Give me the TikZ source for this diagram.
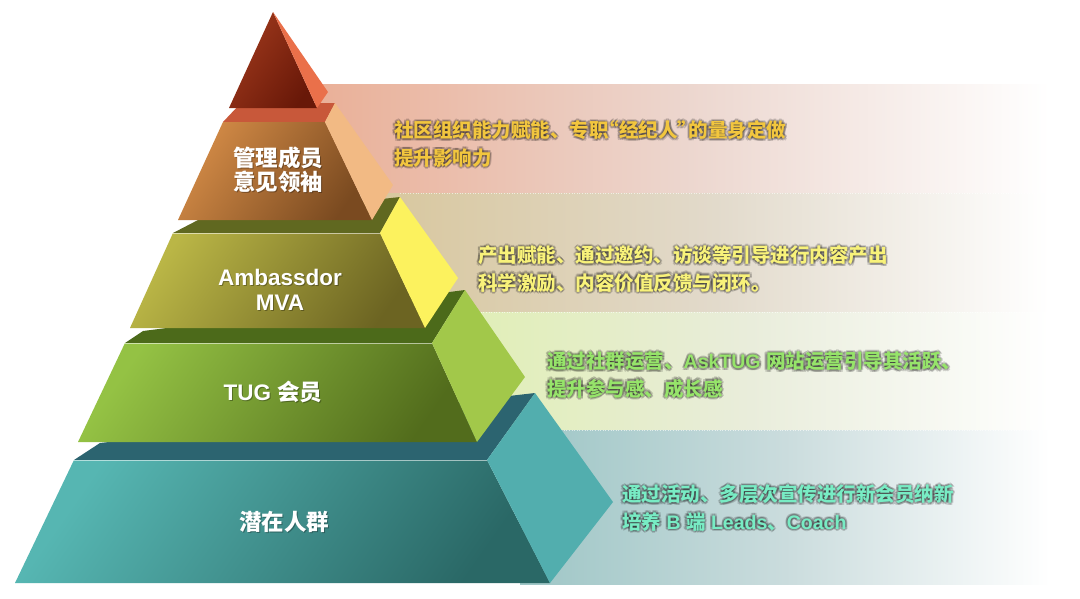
\documentclass[tikz,border=0pt]{standalone}
\usepackage{fontspec}
\setmainfont{Liberation Sans}
\newfontfamily\cjk{Noto Sans CJK SC}
\usetikzlibrary{calc}
\definecolor{bandA}{RGB}{234,176,152}
\definecolor{bandAm}{RGB}{236,214,206}
\definecolor{bandB}{RGB}{216,199,158}
\definecolor{bandBm}{RGB}{226,218,203}
\definecolor{bandC}{RGB}{224,238,180}
\definecolor{bandCm}{RGB}{233,237,219}
\definecolor{bandD}{RGB}{158,198,198}
\definecolor{bandDm}{RGB}{202,220,221}
\definecolor{tipF1}{RGB}{158,56,28}
\definecolor{tipF2}{RGB}{104,24,8}
\definecolor{tipS}{RGB}{234,112,74}
\definecolor{lbT}{RGB}{200,88,58}
\definecolor{lbF1}{RGB}{210,138,70}
\definecolor{lbF2}{RGB}{122,74,32}
\definecolor{lbS}{RGB}{242,186,132}
\definecolor{lcT}{RGB}{96,104,32}
\definecolor{lcF1}{RGB}{186,182,70}
\definecolor{lcF2}{RGB}{108,100,34}
\definecolor{lcS}{RGB}{252,242,94}
\definecolor{ldT}{RGB}{76,106,26}
\definecolor{ldF1}{RGB}{148,194,68}
\definecolor{ldF2}{RGB}{82,108,28}
\definecolor{ldS}{RGB}{162,200,74}
\definecolor{leT}{RGB}{44,100,112}
\definecolor{leF1}{RGB}{86,182,178}
\definecolor{leF2}{RGB}{42,104,102}
\definecolor{leS}{RGB}{82,174,174}
\definecolor{txA}{RGB}{242,198,62}
\definecolor{txB}{RGB}{248,242,122}
\definecolor{txC}{RGB}{150,228,106}
\definecolor{txD}{RGB}{120,236,196}
\newcommand\glowtext[4]{%
  \foreach \a in {0,45,...,315}{\node[bandtxt,text=black,opacity=0.16] at ($(#2)+(\a:2.2)$) {#4};}
  \node[bandtxt,text=#3] (#1) at (#2) {#4};}
\newcommand\pyrlabel[3]{%
  \node[labeltxt,text=black,opacity=0.3] at ($(#2)+(1,1)$) {#3};
  \node[labeltxt] (#1) at (#2) {#3};}
\begin{document}
\begin{tikzpicture}[x=1pt,y=-1pt,
  bandtxt/.style={anchor=west,inner sep=0pt,align=left,font=\fontsize{19.5}{27.5}\selectfont\bfseries},
  labeltxt/.style={inner sep=0pt,align=center,text=white,font=\fontsize{22.5}{24.5}\selectfont\bfseries},
  frontface/.style 2 args={top color=#1,bottom color=#2,shading angle=55},
  edgeline/.style={white,opacity=0.55,line width=0.8pt}]
\useasboundingbox (0,0) rectangle (1080,598);
\fill[white] (0,0) rectangle (1080,598);
% background bands
\shade[left color=bandA,right color=white,middle color=bandAm] (318,84) rectangle (1050,193);
\shade[left color=bandB,right color=white,middle color=bandBm] (380,193) rectangle (1050,312);
\shade[left color=bandC,right color=white,middle color=bandCm] (450,312) rectangle (1050,430);
\shade[left color=bandD,right color=white,middle color=bandDm] (520,430) rectangle (1050,584);
\draw[white,opacity=0.6,dotted,line width=0.6pt] (400,193) -- (1040,193) (460,312) -- (1040,312) (530,430) -- (1040,430);
% layer 5
\fill[leT] (74,460) -- (100,443) -- (535,393) -- (487,460) -- cycle;
\shade[frontface={leF1}{leF2}] (74,460) -- (487,460) -- (550,583) -- (15,583) -- cycle;
\fill[leS] (487,460) -- (535,393) -- (613,502) -- (550,583) -- cycle;
\draw[edgeline] (74,460) -- (487,460);
% layer 4
\fill[ldT] (125,343) -- (143,331) -- (465,290) -- (432,343) -- cycle;
\shade[frontface={ldF1}{ldF2}] (125,343) -- (432,343) -- (477,442) -- (78,442) -- cycle;
\fill[ldS] (432,343) -- (465,290) -- (525,377) -- (477,442) -- cycle;
\draw[edgeline] (125,343) -- (432,343);
% layer 3
\fill[lcT] (173,233) -- (200,219) -- (400,197) -- (380,233) -- cycle;
\shade[frontface={lcF1}{lcF2}] (173,233) -- (380,233) -- (425,328) -- (130,328) -- cycle;
\fill[lcS] (380,233) -- (400,197) -- (458,278) -- (425,328) -- cycle;
\draw[edgeline] (173,233) -- (380,233);
% layer 2
\fill[lbT] (223,122) -- (240,104) -- (335,103) -- (325,122) -- cycle;
\shade[frontface={lbF1}{lbF2}] (223,122) -- (325,122) -- (372,220) -- (178,220) -- cycle;
\fill[lbS] (325,122) -- (335,103) -- (393,185) -- (372,220) -- cycle;
% tip
\shade[frontface={tipF1}{tipF2}] (273,12) -- (317,108) -- (229,108) -- cycle;
\fill[tipS] (273,12) -- (328,92) -- (317,108) -- cycle;
% pyramid labels
\pyrlabel{l2}{278,170}{\cjk 管理成员\\\cjk 意见领袖}
\pyrlabel{l3}{280,290}{Ambassdor\\MVA}
\pyrlabel{l4}{273,392}{TUG {\cjk 会员}}
\pyrlabel{l5}{284,522}{\cjk 潜在人群}
% band texts
\glowtext{t1}{394,144}{txA}{\cjk 社区组织能力赋能、专职\kern-0.45em“经纪人”\kern-0.45em的量身定做\\\cjk 提升影响力}
\glowtext{t2}{478,269}{txB}{\cjk 产出赋能、通过邀约、访谈等引导进行内容产出\\\cjk 科学激励、内容价值反馈与闭环。}
\glowtext{t3}{547,375}{txC}{{\cjk 通过社群运营、}AskTUG {\cjk 网站运营引导其活跃、}\\\cjk 提升参与感、成长感}
\glowtext{t4}{622,508}{txD}{\cjk 通过活动、多层次宣传进行新会员纳新\\{\cjk 培养} B {\cjk 端} Leads{\cjk 、}Coach}
\end{tikzpicture}
\end{document}
